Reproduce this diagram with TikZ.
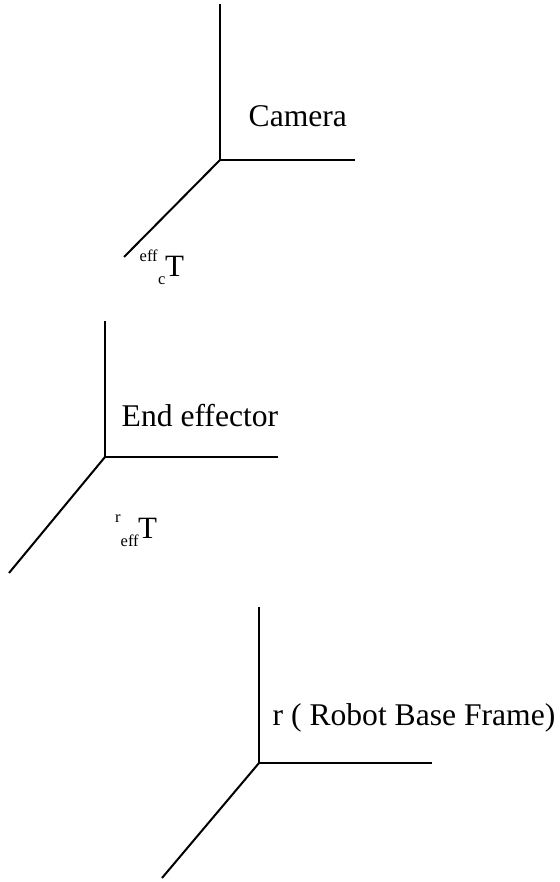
\documentclass[tikz,border=0pt]{standalone}
\usepackage{fontspec}
\setmainfont{Liberation Serif}
\tikzset{axis/.style={draw=black,line width=2pt},lab/.style={inner sep=0pt,anchor=base west,font=\fontsize{31.6}{34}\selectfont},bigt/.style={inner sep=0pt,anchor=base west,font=\fontsize{31}{34}\selectfont},small/.style={inner sep=0pt,anchor=base west,font=\fontsize{16.5}{18}\selectfont}}
\begin{document}
\begin{tikzpicture}[x=1pt,y=1pt]
\useasboundingbox (0,0) rectangle (559,882);
\fill[white] (0,0) rectangle (559,882);
\coordinate (c0) at (220,722); \coordinate (c1) at (220,878); \coordinate (c2) at (355,722); \coordinate (c3) at (124,625);
\draw[axis] (c1)--(c0)--(c2); \draw[axis] (c0)--(c3);
\coordinate (e0) at (105,425); \coordinate (e1) at (105,561); \coordinate (e2) at (278,425); \coordinate (e3) at (9,309);
\draw[axis] (e1)--(e0)--(e2); \draw[axis] (e0)--(e3);
\coordinate (r0) at (259,119); \coordinate (r1) at (259,275); \coordinate (r2) at (432,119); \coordinate (r3) at (162,4);
\draw[axis] (r1)--(r0)--(r2); \draw[axis] (r0)--(r3);
\node[lab] (cam) at (248.5,755) {Camera};
\node[lab] (ee) at (121.5,455.5) {End effector};
\node[lab] (rb) at (272.5,156) {r ( Robot Base Frame)};
\node[small] (a1) at (139.5,620.5) {eff};
\node[small] (a2) at (158,597) {c};
\node[bigt] (a3) at (165,605) {T};
\node[small] (b1) at (115,359) {r};
\node[small] (b2) at (120.5,335) {eff};
\node[bigt] (b3) at (138,343) {T};
\end{tikzpicture}
\end{document}
